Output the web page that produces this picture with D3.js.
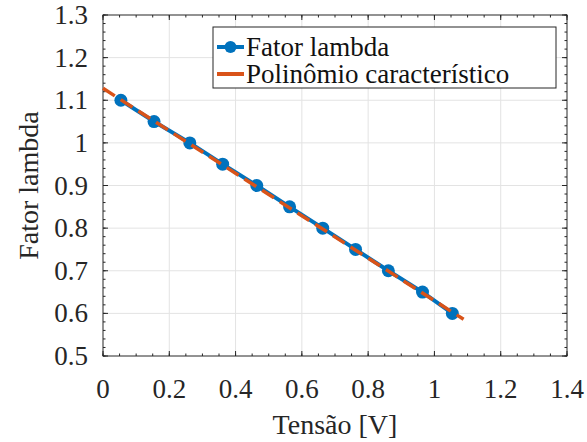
<!DOCTYPE html>
<html>
<head>
<meta charset="utf-8">
<script src="https://cdn.jsdelivr.net/npm/d3@7"></script>
<style>
  body { margin: 0; background: #fff; }
</style>
</head>
<body>
<div id="chart"></div>
<script>
// chart data
const tensao = [0.054, 0.154, 0.262, 0.361, 0.464, 0.563, 0.663, 0.762, 0.861, 0.964, 1.054];
const lambda = [1.1, 1.05, 1.0, 0.95, 0.9, 0.85, 0.8, 0.75, 0.7, 0.65, 0.6];
const polyX = [0, 1.088];
const polyY = [1.128, 0.586];
const xTicks = [0, 0.2, 0.4, 0.6, 0.8, 1, 1.2, 1.4];
const yTicks = [0.5, 0.6, 0.7, 0.8, 0.9, 1, 1.1, 1.2, 1.3];
const seriesNames = ["Fator lambda", "Polinômio característico"];

const width = 587;
const height = 442;
const margin = {left: 103, right: 20, top: 15, bottom: 86};
const fontSize = 27;
const fontFam = "'Liberation Serif', Tinos, 'Times New Roman', 'DejaVu Serif', serif";

const svg = d3.select("#chart")
  .append("svg")
  .attr("width", width)
  .attr("height", height)
  .attr("font-family", fontFam);

const x = d3.scaleLinear()
  .domain([0, 1.4])
  .range([margin.left, width - margin.right]);

const y = d3.scaleLinear()
  .domain([0.5, 1.3])
  .range([height - margin.bottom, margin.top]);

const x0 = x.range()[0], x1 = x.range()[1];
const y0 = y.range()[0], y1 = y.range()[1];

// grid
svg.append("g")
  .selectAll("line")
  .data(xTicks.slice(1, -1))
  .enter().append("line")
    .attr("x1", d => x(d)).attr("x2", d => x(d))
    .attr("y1", y0).attr("y2", y1)
    .attr("stroke", "#e3e3e3").attr("stroke-width", 1);

svg.append("g")
  .selectAll("line")
  .data(yTicks.slice(1, -1))
  .enter().append("line")
    .attr("x1", x0).attr("x2", x1)
    .attr("y1", d => y(d)).attr("y2", d => y(d))
    .attr("stroke", "#e3e3e3").attr("stroke-width", 1);

// axes: ticks inward on all four sides, with minor ticks
const xMinor = d3.range(0, 1.4001, 0.05);
const yMinor = d3.range(0.5, 1.3001, 0.02);

function addTicks(g, vals, len) {
  vals.forEach(v => {
    g.append("line").attr("x1", x(v)).attr("x2", x(v)).attr("y1", y0).attr("y2", y0 - len);
    g.append("line").attr("x1", x(v)).attr("x2", x(v)).attr("y1", y1).attr("y2", y1 + len);
  });
}
function addTicksY(g, vals, len) {
  vals.forEach(v => {
    g.append("line").attr("y1", y(v)).attr("y2", y(v)).attr("x1", x0).attr("x2", x0 + len);
    g.append("line").attr("y1", y(v)).attr("y2", y(v)).attr("x1", x1).attr("x2", x1 - len);
  });
}

const tickG = svg.append("g").attr("stroke", "#262626").attr("stroke-width", 1);
addTicks(tickG, xMinor, 2.5);
addTicks(tickG, xTicks, 5);
addTicksY(tickG, yMinor, 2.5);
addTicksY(tickG, yTicks, 5);

svg.append("rect")
  .attr("x", x0).attr("y", y1)
  .attr("width", x1 - x0).attr("height", y0 - y1)
  .attr("fill", "none").attr("stroke", "#262626").attr("stroke-width", 1);

// tick labels
svg.append("g")
  .selectAll("text")
  .data(xTicks)
  .enter().append("text")
    .attr("x", d => x(d))
    .attr("y", y0 + 42)
    .attr("text-anchor", "middle")
    .attr("font-size", fontSize)
    .attr("fill", "#262626")
    .text(d => d3.format("~g")(d));

svg.append("g")
  .selectAll("text")
  .data(yTicks)
  .enter().append("text")
    .attr("x", x0 - 15)
    .attr("y", d => y(d) + 9)
    .attr("text-anchor", "end")
    .attr("font-size", fontSize)
    .attr("fill", "#262626")
    .text(d => d3.format("~g")(d));

// axis titles
svg.append("text")
  .attr("x", (x0 + x1) / 2)
  .attr("y", 434)
  .attr("text-anchor", "middle")
  .attr("font-size", fontSize + 1)
  .attr("fill", "#262626")
  .text("Tensão [V]");

svg.append("text")
  .attr("transform", `translate(38, ${(y0 + y1) / 2}) rotate(-90)`)
  .attr("text-anchor", "middle")
  .attr("font-size", fontSize + 1)
  .attr("fill", "#262626")
  .text("Fator lambda");

// data lines
const pts = tensao.map((d, i) => [d, lambda[i]]);
const polyPts = polyX.map((d, i) => [d, polyY[i]]);
const line = d3.line().x(d => x(d[0])).y(d => y(d[1]));

svg.append("path")
  .datum(pts)
  .attr("d", line)
  .attr("fill", "none")
  .attr("stroke", "#0072BD")
  .attr("stroke-width", 4);

svg.selectAll("circle.pt")
  .data(pts)
  .enter().append("circle")
    .attr("cx", d => x(d[0]))
    .attr("cy", d => y(d[1]))
    .attr("r", 6.5)
    .attr("fill", "#0072BD");

svg.append("path")
  .datum(polyPts)
  .attr("d", line)
  .attr("fill", "none")
  .attr("stroke", "#D95319")
  .attr("stroke-width", 3.5)
  .attr("stroke-dasharray", "14,7");

// legend
const leg = svg.append("g");
leg.append("rect")
  .attr("x", 213).attr("y", 27)
  .attr("width", 343).attr("height", 61)
  .attr("fill", "#fff").attr("stroke", "#262626").attr("stroke-width", 1);

const legY = [47, 74];
leg.append("line")
  .attr("x1", 217).attr("x2", 244).attr("y1", legY[0]).attr("y2", legY[0])
  .attr("stroke", "#0072BD").attr("stroke-width", 4);
leg.append("circle")
  .attr("cx", 230.5).attr("cy", legY[0]).attr("r", 6).attr("fill", "#0072BD");
leg.append("line")
  .attr("x1", 217).attr("x2", 244).attr("y1", legY[1]).attr("y2", legY[1])
  .attr("stroke", "#D95319").attr("stroke-width", 4);

leg.selectAll("text")
  .data(seriesNames)
  .enter().append("text")
    .attr("x", 246)
    .attr("y", (d, i) => legY[i] + 9)
    .attr("font-size", fontSize)
    .attr("fill", "#111")
    .text(d => d);
</script>
</body>
</html>
